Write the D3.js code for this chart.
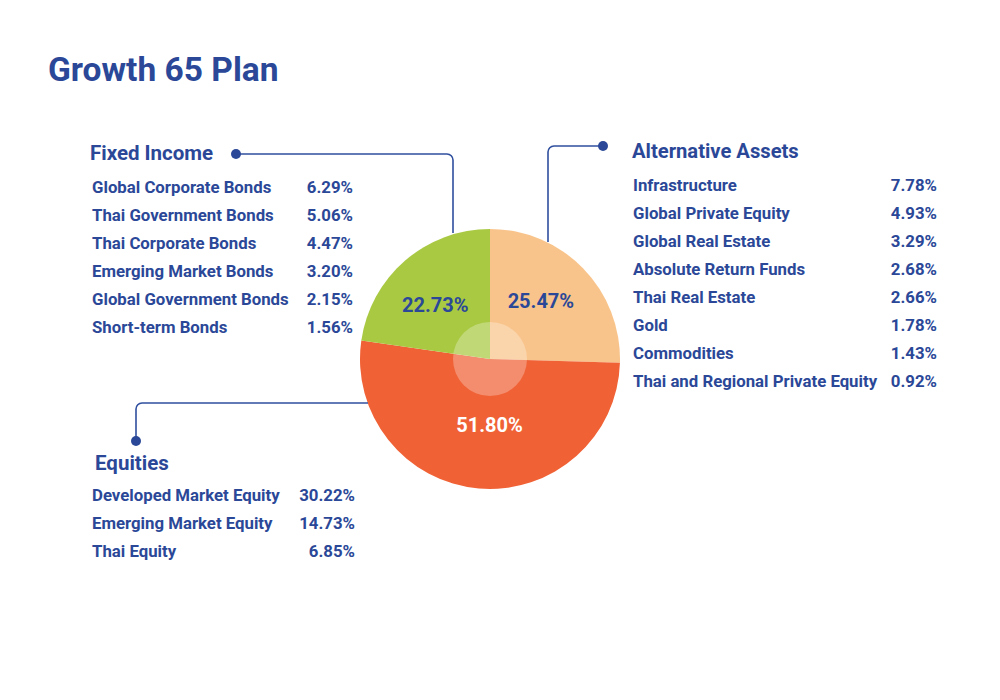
<!DOCTYPE html>
<html>
<head>
<meta charset="utf-8">
<script src="https://cdn.jsdelivr.net/npm/d3@7"></script>
<style>
  html, body { margin: 0; padding: 0; background: #ffffff; }
  svg text { font-family: Roboto, "Noto Sans", sans-serif; font-weight: 700; }
</style>
</head>
<body>
<svg id="chart" width="1000" height="700"></svg>
<script>
// ---- DATA ----
const title = "Growth 65 Plan";
const groups = ["Alternative Assets", "Equities", "Fixed Income"];
const groupValues = [25.47, 51.80, 22.73];

const fixedIncomeNames = ["Global Corporate Bonds", "Thai Government Bonds", "Thai Corporate Bonds", "Emerging Market Bonds", "Global Government Bonds", "Short-term Bonds"];
const fixedIncomeValues = [6.29, 5.06, 4.47, 3.20, 2.15, 1.56];

const alternativeNames = ["Infrastructure", "Global Private Equity", "Global Real Estate", "Absolute Return Funds", "Thai Real Estate", "Gold", "Commodities", "Thai and Regional Private Equity"];
const alternativeValues = [7.78, 4.93, 3.29, 2.68, 2.66, 1.78, 1.43, 0.92];

const equityNames = ["Developed Market Equity", "Emerging Market Equity", "Thai Equity"];
const equityValues = [30.22, 14.73, 6.85];

// ---- STYLE ----
const navy = "#2b4898";
const lineColor = "#2f4f9e";
const sliceColors = { "Alternative Assets": "#f9c48b", "Equities": "#f06236", "Fixed Income": "#a9c943" };
const labelColors = { "Alternative Assets": navy, "Equities": "#ffffff", "Fixed Income": navy };

const svg = d3.select("#chart");
const cx = 490, cy = 359, R = 130;

svg.append("text").attr("x", 48).attr("y", 81)
  .attr("font-size", 33.5).attr("fill", navy).text(title);

// ---- PIE ----
const pieData = groups.map((g, i) => ({ name: g, value: groupValues[i] }));
const pie = d3.pie().sort(null).value(d => d.value);
const arcs = pie(pieData);
const arc = d3.arc().innerRadius(0).outerRadius(R);
const g = svg.append("g").attr("transform", `translate(${cx},${cy})`);

g.selectAll("path.slice").data(arcs).enter().append("path")
  .attr("class", "slice").attr("d", arc)
  .attr("fill", d => sliceColors[d.data.name]);

g.append("circle").attr("r", 37).attr("fill", "#ffffff").attr("fill-opacity", 0.28);

const fmt = v => v.toFixed(2) + "%";
const angleShift = -4.5 * Math.PI / 180;
g.selectAll("text.plabel").data(arcs).enter().append("text")
  .attr("class", "plabel")
  .attr("transform", d => {
    const lr = d.data.name === "Equities" ? 66 : 77;
    const shifted = { startAngle: d.startAngle + angleShift, endAngle: d.endAngle + angleShift };
    const c = d3.arc().innerRadius(lr).outerRadius(lr).centroid(shifted);
    return `translate(${c[0]},${c[1]})`;
  })
  .attr("text-anchor", "middle").attr("dy", "0.36em")
  .attr("font-size", 20).attr("fill", d => labelColors[d.data.name])
  .text(d => fmt(d.data.value));

// ---- CONNECTORS ----
function connector(points, r) {
  const p = d3.path();
  p.moveTo(points[0][0], points[0][1]);
  p.arcTo(points[1][0], points[1][1], points[2][0], points[2][1], r);
  p.lineTo(points[2][0], points[2][1]);
  return p.toString();
}
const conns = [
  { pts: [[236, 154], [453, 154], [453, 233]], dot: [236, 154] },
  { pts: [[603, 146], [548, 146], [548, 242]], dot: [603, 146] },
  { pts: [[368, 403], [136, 403], [136, 441]], dot: [136, 441] }
];
conns.forEach(c => {
  svg.append("path").attr("d", connector(c.pts, 6))
    .attr("fill", "none").attr("stroke", lineColor).attr("stroke-width", 1.6);
  svg.append("circle").attr("cx", c.dot[0]).attr("cy", c.dot[1]).attr("r", 5).attr("fill", navy);
});

// ---- LISTS ----
function list(heading, hx, hy, hs, names, values, nx, vx, y0) {
  svg.append("text").attr("x", hx).attr("y", hy).attr("font-size", hs).attr("fill", navy).text(heading);
  const y = d3.scalePoint().domain(names).range([y0, y0 + 28 * (names.length - 1)]);
  const rows = svg.append("g").selectAll("g").data(names).enter().append("g");
  rows.append("text").attr("x", nx).attr("y", d => y(d)).attr("font-size", 16.8).attr("fill", navy).text(d => d);
  rows.append("text").attr("x", vx).attr("y", d => y(d)).attr("text-anchor", "end")
    .attr("font-size", 16.8).attr("fill", navy).text((d, i) => fmt(values[i]));
}
list("Fixed Income", 90, 160, 20.5, fixedIncomeNames, fixedIncomeValues, 92, 353, 193);
list("Alternative Assets", 632, 158, 20.2, alternativeNames, alternativeValues, 633, 937, 191);
list("Equities", 95, 470, 20.5, equityNames, equityValues, 92, 355, 501);
</script>
</body>
</html>
